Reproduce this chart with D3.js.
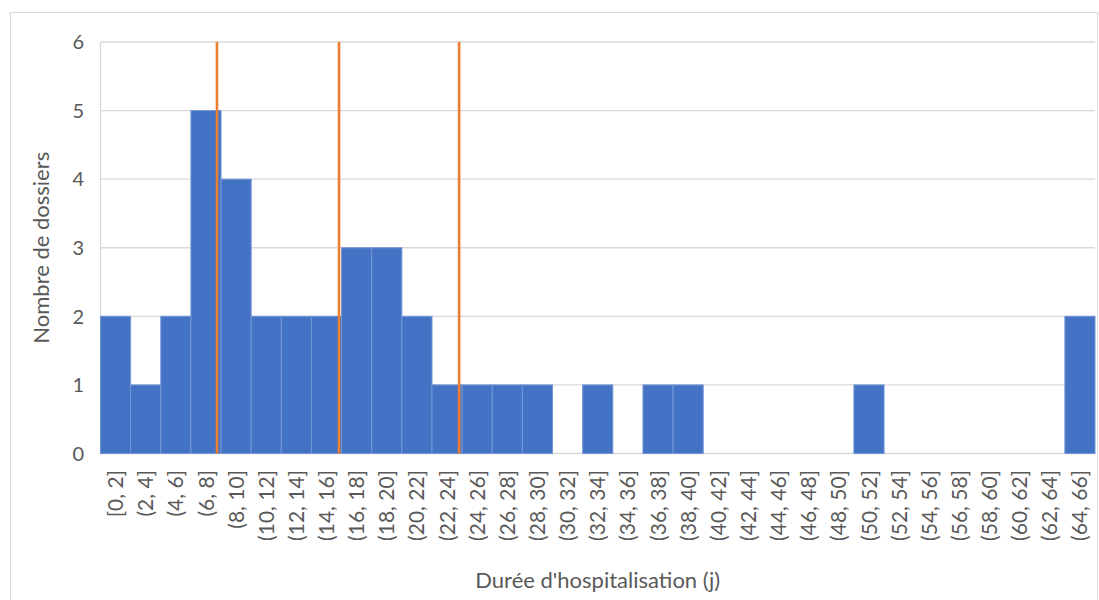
<!DOCTYPE html>
<html>
<head>
<meta charset="utf-8">
<script src="https://cdn.jsdelivr.net/npm/d3@7"></script>
<style>
  html, body { margin: 0; padding: 0; background: #fff; }
  svg { display: block; }
  text { font-family: Lato, "Open Sans", sans-serif; fill: #595959; }
</style>
</head>
<body>
<svg id="chart" width="1099" height="600"></svg>
<script>
// ---- data ----
const categories = ["[0, 2]","(2, 4]","(4, 6]","(6, 8]","(8, 10]","(10, 12]","(12, 14]","(14, 16]",
  "(16, 18]","(18, 20]","(20, 22]","(22, 24]","(24, 26]","(26, 28]","(28, 30]","(30, 32]",
  "(32, 34]","(34, 36]","(36, 38]","(38, 40]","(40, 42]","(42, 44]","(44, 46]","(46, 48]",
  "(48, 50]","(50, 52]","(52, 54]","(54, 56]","(56, 58]","(58, 60]","(60, 62]","(62, 64]","(64, 66]"];
const counts = [2,1,2,5,4,2,2,2,3,3,2,1,1,1,1,0,1,0,1,1,0,0,0,0,0,1,0,0,0,0,0,0,2];
const binStarts = [0,2,4,6,8,10,12,14,16,18,20,22,24,26,28,30,32,34,36,38,40,42,44,46,48,50,52,54,56,58,60,62,64];
const binWidth = 2;
const markers = [7.73, 15.83, 23.8];   // vertical reference lines (days)
const yTicks = [0,1,2,3,4,5,6];
const xTitle = "Durée d'hospitalisation (j)";
const yTitle = "Nombre de dossiers";

// ---- layout ----
const svg = d3.select("#chart");
const pL = 100.5, pR = 1095, pT = 42, pB = 453.5;

// chart border
svg.append("rect").attr("x", 10.5).attr("y", 12.5).attr("width", 1087).attr("height", 600)
  .attr("fill", "none").attr("stroke", "#d9d9d9").attr("stroke-width", 1);

const x = d3.scaleLinear().domain([0, 66]).range([pL, pR]);
const xb = d3.scaleBand().domain(categories).range([pL, pR]).padding(0);
const y = d3.scaleLinear().domain([0, 6]).range([pB, pT]);

// gridlines
svg.append("g").selectAll("line").data(yTicks).join("line")
  .attr("x1", pL).attr("x2", pR)
  .attr("y1", d => y(d)).attr("y2", d => y(d))
  .attr("stroke", "#d9d9d9").attr("stroke-width", 1.3);

// left axis line
svg.append("line").attr("x1", pL).attr("x2", pL).attr("y1", pT).attr("y2", pB)
  .attr("stroke", "#d9d9d9").attr("stroke-width", 1.3);

// bars
svg.append("g").selectAll("rect").data(counts.map((c, i) => ({c, s: binStarts[i]}))).join("rect")
  .filter(d => d.c > 0)
  .attr("x", d => x(d.s))
  .attr("width", d => x(d.s + binWidth) - x(d.s))
  .attr("y", d => y(d.c))
  .attr("height", d => y(0) - y(d.c))
  .attr("fill", "#4472C4")
  .attr("stroke", "#7396d6").attr("stroke-width", 1);

// marker lines
svg.append("g").selectAll("line").data(markers).join("line")
  .attr("x1", d => x(d)).attr("x2", d => x(d))
  .attr("y1", pT).attr("y2", pB)
  .attr("stroke", "#ED7D31").attr("stroke-width", 2.6);

// y tick labels
svg.append("g").selectAll("text").data(yTicks).join("text")
  .attr("x", 84).attr("y", d => y(d)).attr("dy", "0.36em")
  .attr("text-anchor", "end").attr("font-size", 20).text(d => d);

// x tick labels
svg.append("g").selectAll("text").data(categories).join("text")
  .attr("transform", d => `translate(${xb(d) + xb.bandwidth() / 2},470) rotate(-90)`)
  .attr("dy", "0.36em").attr("text-anchor", "end").attr("font-size", 21).text(d => d);

// axis titles
svg.append("text").attr("x", (pL + pR) / 2).attr("y", 588)
  .attr("text-anchor", "middle").attr("font-size", 22).text(xTitle);
svg.append("text").attr("transform", `translate(49,${(pT + pB) / 2}) rotate(-90)`)
  .attr("text-anchor", "middle").attr("font-size", 22).text(yTitle);
</script>
</body>
</html>
